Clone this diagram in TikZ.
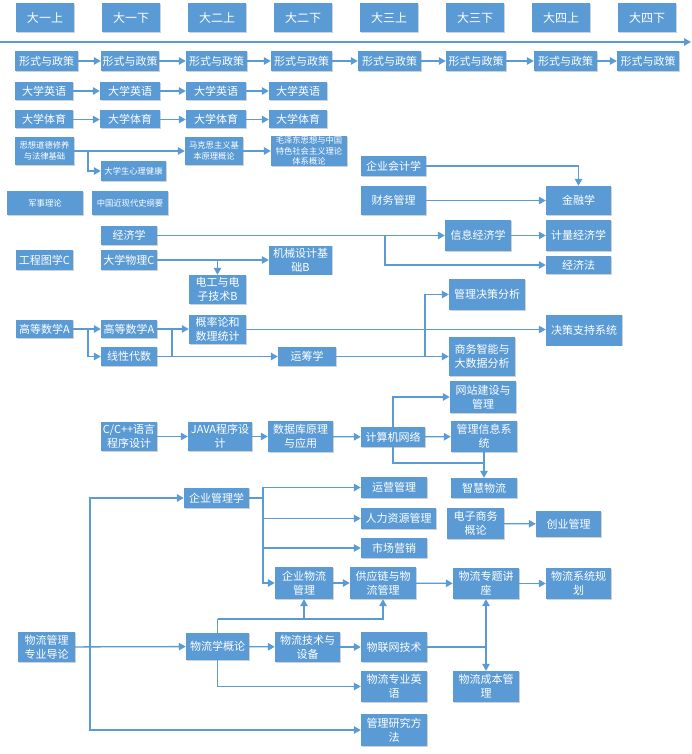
\documentclass[tikz,border=0pt]{standalone}
\usepackage{fontspec}
\newfontfamily\cjk{Noto Sans CJK SC}
\usetikzlibrary{arrows.meta,shadows}
\definecolor{boxblue}{HTML}{5B9BD5}
\definecolor{lineblue}{HTML}{5B9BD5}
\tikzset{
  box/.style={fill=boxblue, text=white, inner sep=0pt, align=center,
    font=\cjk\fontsize{11}{14}\selectfont,
    drop shadow={shadow xshift=0.8pt, shadow yshift=-0.8pt, fill=black, opacity=0.18}},
  hdr/.style={box, font=\cjk\fontsize{12}{14}\selectfont},
  small/.style={box, font=\cjk\fontsize{8.3}{10.6}\selectfont},
  arr/.style={draw=lineblue, line width=1.3pt, -{Triangle[length=7pt,width=7.5pt]}},
  ln/.style={draw=lineblue, line width=1.3pt},
}
\newcommand\bx[7][box]{\node[#1, minimum width=#5pt, minimum height=#6pt] (#2) at (#3,#4) {#7};}
\begin{document}
\begin{tikzpicture}[x=1pt,y=-1pt]
\useasboundingbox (0,0) rectangle (692,754);
% headers
\bx[hdr]{h1}{45}{17.5}{58}{29}{大一上}
\bx[hdr]{h2}{131}{17.5}{58}{29}{大一下}
\bx[hdr]{h3}{217}{17.5}{58}{29}{大二上}
\bx[hdr]{h4}{303}{17.5}{58}{29}{大二下}
\bx[hdr]{h5}{389}{17.5}{58}{29}{大三上}
\bx[hdr]{h6}{475}{17.5}{58}{29}{大三下}
\bx[hdr]{h7}{561}{17.5}{58}{29}{大四上}
\bx[hdr]{h8}{647}{17.5}{58}{29}{大四下}
\coordinate (t0) at (0,42);
\coordinate (t1) at (691,42);
\draw[arr] (t0) -- (t1);
% 形式与政策
\bx{x1}{46.5}{61}{63}{20}{形式与政策}
\bx{x2}{130}{61}{58}{20}{形式与政策}
\bx{x3}{216.5}{61}{61}{20}{形式与政策}
\bx{x4}{301.5}{61}{61}{20}{形式与政策}
\bx{x5}{389.5}{61}{63}{20}{形式与政策}
\bx{x6}{476}{61}{60}{20}{形式与政策}
\bx{x7}{565.5}{61}{63}{20}{形式与政策}
\bx{x8}{648}{61}{62}{20}{形式与政策}
\foreach \a/\b in {x1/x2,x2/x3,x3/x4,x4/x5,x5/x6,x6/x7,x7/x8} \draw[arr] (\a) -- (\b);
% 英语 体育
\bx{e1}{44}{91}{58}{18}{大学英语}
\bx{e2}{130}{91}{60}{18}{大学英语}
\bx{e3}{216}{91}{60}{18}{大学英语}
\bx{e4}{298}{91}{58}{18}{大学英语}
\bx{p1}{44}{119.5}{58}{18}{大学体育}
\bx{p2}{130}{119.5}{60}{18}{大学体育}
\bx{p3}{216}{119.5}{60}{18}{大学体育}
\bx{p4}{298}{119.5}{58}{18}{大学体育}
\foreach \a/\b in {e1/e2,e2/e3,e3/e4,p1/p2,p2/p3,p3/p4} \draw[arr] (\a) -- (\b);
% 思政
\bx[small]{sx}{44.5}{151}{59}{28}{思想道德修养\\与法律基础}
\bx[small]{xl}{133.5}{171}{65}{20}{大学生心理健康}
\bx[small]{mks}{214}{151}{58}{28}{马克思主义基\\本原理概论}
\bx[small]{mzd}{309}{151}{76}{30}{毛泽东思想与中国\\特色社会主义理论\\体系概论}
\bx[small]{js}{45}{203}{76}{24}{军事理论}
\bx[small]{zg}{130}{203}{76}{24}{中国近现代史纲要}
\draw[arr] (sx) -- (mks);
\coordinate (b1) at (88,151);
\draw[arr] (b1) |- (xl.west);
\draw[arr] (mks) -- (mzd);
% 会计 财务 金融
\bx{kj}{393.5}{166}{65}{20}{企业会计学}
\bx{cw}{393.5}{200.5}{65}{29}{财务管理}
\bx{jr}{578.5}{200.5}{65}{29}{金融学}
\draw[arr] (kj.east) -| (jr.north);
\draw[arr] (cw) -- (jr);
% 经济
\bx{jj}{129}{235.5}{56}{19}{经济学}
\bx{wl}{129}{260}{56}{20}{大学物理C}
\bx{gc}{44.5}{260}{57}{20}{工程图学C}
\bx{jx}{300.5}{260}{63}{29}{机械设计基\\础B}
\bx{dg}{217.5}{289.5}{57}{29}{电工与电\\子技术B}
\bx{xxjj}{478}{235.5}{66}{31}{信息经济学}
\bx{jl}{578.5}{235.5}{65}{31}{计量经济学}
\bx{jjf}{578.5}{265}{65}{18}{经济法}
\draw[arr] (jj) -- (xxjj);
\coordinate (b2) at (385,235.5);
\draw[arr] (b2) |- (jjf.west);
\draw[arr] (xxjj) -- (jl);
\draw[arr] (wl) -- (jx.west |- wl);
\coordinate (b3) at (217.5,260);
\draw[arr] (b3) -- (dg.north);
% 数学
\bx{gs1}{44.5}{329}{57}{18}{高等数学A}
\bx{gs2}{129}{329}{56}{18}{高等数学A}
\bx{xd}{129}{356.5}{56}{19}{线性代数}
\bx{gl}{217.5}{329.5}{57}{29}{概率论和\\数理统计}
\bx{yc}{307}{356.5}{58}{19}{运筹学}
\bx{jcfx}{487}{294.5}{76}{31}{管理决策分析}
\bx{jczc}{584}{330}{76}{31}{决策支持系统}
\bx{swzn}{482}{356.5}{66}{39}{商务智能与\\大数据分析}
\draw[arr] (gs1) -- (gs2);
\coordinate (b4) at (88,329);
\draw[arr] (b4) |- (xd.west);
\draw[arr] (gs2.east) -- (gl.west |- gs2.east);
\draw[arr] (xd) -- (yc);
\coordinate (b5) at (172,329);
\coordinate (b6) at (172,356.5);
\draw[ln] (b5) -- (b6);
\draw[arr] (gl.east) -- (jczc.west |- gl.east);
\draw[arr] (yc) -- (swzn);
\coordinate (b7) at (425,356.5);
\draw[arr] (b7) |- (jcfx.west);
% 计算机
\bx{wz}{483}{397}{66}{32}{网站建设与\\管理}
\bx{cpp}{129}{436.5}{56}{29}{C/C++语言\\程序设计}
\bx{java}{220}{436.5}{64}{29}{JAVA程序设\\计}
\bx{sjk}{300.5}{436.5}{65}{31}{数据库原理\\与应用}
\bx{jsj}{393}{437}{64}{20}{计算机网络}
\bx{glxx}{484}{436.5}{66}{31}{管理信息系\\统}
\bx{zh}{484}{488}{66}{20}{智慧物流}
\draw[arr] (cpp) -- (java);
\draw[arr] (java) -- (sjk);
\draw[arr] (sjk) -- (jsj);
\draw[arr] (jsj) -- (glxx);
\draw[arr] (jsj.north) |- (wz.west);
\coordinate (b8) at (484,463);
\draw[ln] (jsj.south) |- (b8);
\draw[arr] (glxx.south) -- (zh.north);
% 管理
\bx{qygl}{216.5}{498}{65}{20}{企业管理学}
\bx{yy}{394}{487.5}{66}{21}{运营管理}
\bx{rl}{398.5}{518.5}{75}{21}{人力资源管理}
\bx{sc}{394}{548}{66}{20}{市场营销}
\bx{dz}{475.5}{523.5}{57}{31}{电子商务\\概论}
\bx{cy}{568.5}{524}{65}{26}{创业管理}
\draw[arr] (dz) -- (cy);
\coordinate (c1) at (263,498);
\draw[ln] (qygl.east) -- (c1);
% 物流
\bx{qywl}{304}{583}{58}{32}{企业物流\\管理}
\bx{gyl}{383}{583}{66}{32}{供应链与物\\流管理}
\bx{ztjz}{486}{583.5}{66}{31}{物流专题讲\\座}
\bx{xtgh}{578.5}{583.5}{65}{31}{物流系统规\\划}
\bx{dl}{46.5}{647}{57}{30}{物流管理\\专业导论}
\bx{wlx}{217.5}{646.5}{63}{27}{物流学概论}
\bx{jssb}{307.5}{647}{65}{30}{物流技术与\\设备}
\bx{wlw}{394}{647}{66}{30}{物联网技术}
\bx{zyyy}{394}{686.5}{66}{31}{物流专业英\\语}
\bx{cbgl}{486}{686.5}{66}{31}{物流成本管\\理}
\bx{yjff}{394}{730}{66}{32}{管理研究方\\法}
\draw[arr] (c1) |- (yy.west);
\draw[arr] (c1) |- (rl.west);
\draw[arr] (c1) |- (sc.west);
\draw[arr] (c1) |- (qywl.west);
\draw[arr] (qywl) -- (gyl);
\draw[arr] (gyl) -- (ztjz);
\draw[arr] (ztjz) -- (xtgh);
\draw[arr] (dl) -- (wlx);
\coordinate (c0) at (90,647);
\draw[arr] (c0) |- (qygl.west);
\draw[arr] (c0) |- (yjff.west);
\coordinate (c2) at (217.5,619);
\draw[ln] (wlx.north) -- (c2);
\draw[arr] (c2) -| (qywl.south);
\draw[arr] (c2) -| (gyl.south);
\draw[arr] (wlx) -- (jssb);
\draw[arr] (jssb) -- (wlw);
\coordinate (c3) at (486,647);
\draw[ln] (wlw.east) -- (c3);
\draw[arr] (c3) -- (ztjz.south);
\draw[arr] (c3) -- (cbgl.north);
\draw[arr] (wlx.south) |- (zyyy.west);
\end{tikzpicture}
\end{document}
